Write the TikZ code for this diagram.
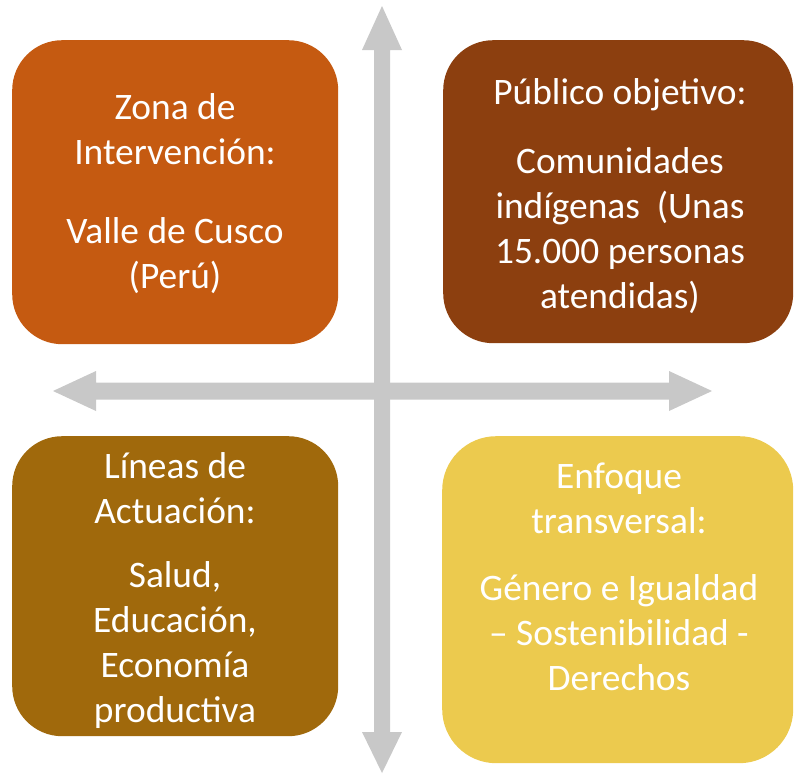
\documentclass[tikz,border=0pt]{standalone}
\usepackage{fontspec}
\setmainfont{Carlito}
\definecolor{cOrange}{HTML}{C55A11}
\definecolor{cBrown}{HTML}{8C3F0F}
\definecolor{cOchre}{HTML}{A0690C}
\definecolor{cYellow}{HTML}{ECCA4E}
\definecolor{cGray}{HTML}{C8C8C8}
\newcommand{\ls}{\rule[-11pt]{0pt}{45pt}}
\begin{document}
\begin{tikzpicture}[x=1pt,y=-1pt,
  quadbox/.style={rectangle, draw=none, inner sep=0pt, anchor=north west},
  quadtext/.style={text=white, align=center, inner sep=0pt, anchor=north,
    font=\fontsize{37.4}{45}\selectfont},
  axisarrow/.style={fill=cGray, draw=none}]
\useasboundingbox (0,0) rectangle (794,774);
% axes
\fill[axisarrow] (382,6) -- (402,50) -- (390,50) -- (390,732) -- (402,732)
  -- (382,773) -- (362,732) -- (374,732) -- (374,50) -- (362,50) -- cycle;
\fill[axisarrow] (53,391) -- (96,371) -- (96,382.5) -- (669,382.5) -- (669,371)
  -- (712,391) -- (669,411) -- (669,399.5) -- (96,399.5) -- (96,411) -- cycle;
% boxes
\node[quadbox, fill=cOrange, rounded corners=50pt, minimum width=326pt, minimum height=304pt] (zona) at (12,40) {};
\node[quadbox, fill=cBrown, rounded corners=50pt, minimum width=350pt, minimum height=303pt] (publico) at (443,40) {};
\node[quadbox, fill=cOchre, rounded corners=50pt, minimum width=326pt, minimum height=300pt] (lineas) at (12,436) {};
\node[quadbox, fill=cYellow, rounded corners=54pt, minimum width=351pt, minimum height=327pt] (enfoque) at (442,436) {};
% texts
\node[quadtext] (zonaT) at (175,85) {\ls Zona de\\\ls Intervención:\\[34pt]\ls Valle de Cusco\\\ls (Perú)};
\node[quadtext] (publicoT) at (620,70) {\ls Público objetivo:\\[24pt]\ls Comunidades\\\ls indígenas\ \ (Unas\\\ls 15.000 personas\\\ls atendidas)};
\node[quadtext] (lineasT) at (175,444) {\ls Líneas de\\\ls Actuación:\\[19pt]\ls Salud,\\\ls Educación,\\\ls Economía\\\ls productiva};
\node[quadtext] (enfoqueT) at (619,454) {\ls Enfoque\\\ls transversal:\\[22pt]\ls Género e Igualdad\\\ls – Sostenibilidad -\\\ls Derechos};
\end{tikzpicture}
\end{document}
